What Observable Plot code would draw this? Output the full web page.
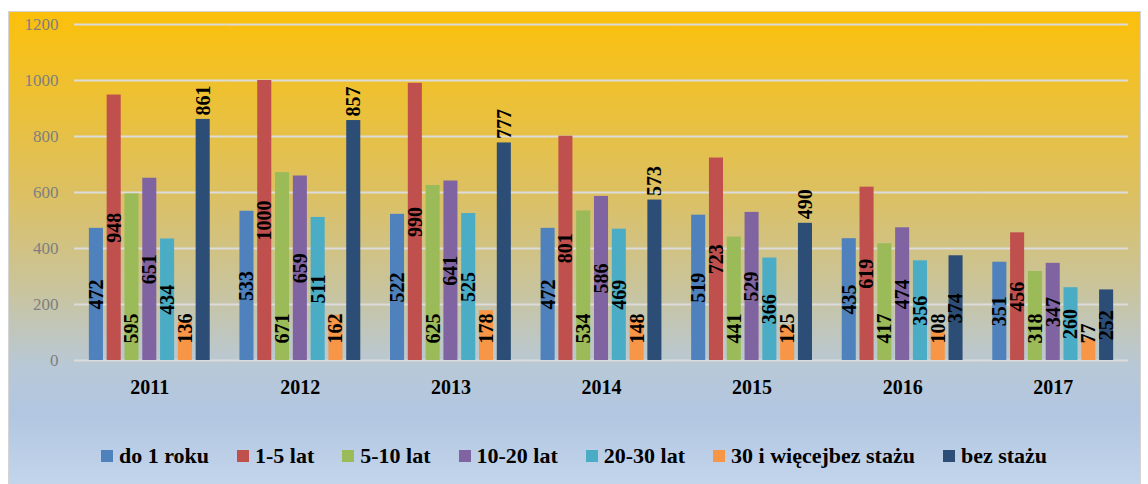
<!DOCTYPE html>
<html><head><meta charset="utf-8">
<script src="https://cdn.jsdelivr.net/npm/d3@7"></script>
<script src="https://cdn.jsdelivr.net/npm/@observablehq/plot@0.6"></script>
<style>
html,body{margin:0;padding:0;background:#fff;}
#wrap{position:relative;width:1148px;height:484px;overflow:hidden;font-family:"Liberation Serif","Times New Roman","DejaVu Serif",serif;}
#bg{position:absolute;left:8px;top:11px;width:1133px;height:480px;border:1px solid #d4d4d4;box-sizing:border-box;
 background:linear-gradient(180deg,#FCC00A 0%,#EDC135 18%,#DCC062 38%,#C9C49C 58%,#B8C8D6 74%,#B2C6E1 84%,#C4D6EC 100%);}
#chart{position:absolute;left:0;top:0;}
#chart svg text{font-family:"Liberation Serif","Times New Roman","DejaVu Serif",serif;}
#legend{position:absolute;left:0;width:1148px;top:443px;display:flex;justify-content:center;gap:28px;font-weight:bold;font-size:22px;color:#000;line-height:26px;}
.item{display:flex;align-items:center;white-space:nowrap;}
.sw{width:12px;height:12px;margin-right:6px;}
</style></head>
<body><div id="wrap"><div id="bg"></div><div id="chart"></div><div id="legend"></div></div>
<script>
const years = ["2011","2012","2013","2014","2015","2016","2017"];
const seriesNames = ["do 1 roku","1-5 lat","5-10 lat","10-20 lat","20-30 lat","30 i więcej","bez stażu"];
const legendLabels = ["do 1 roku","1-5 lat","5-10 lat","10-20 lat","20-30 lat","30 i więcejbez stażu","bez stażu"];
const seriesColors = ["#4F81BD","#C0504D","#9BBB59","#8064A2","#4BACC6","#F79646","#2C4D75"];
const do1Roku   = [472, 533, 522, 472, 519, 435, 351];
const lat1_5    = [948, 1000, 990, 801, 723, 619, 456];
const lat5_10   = [595, 671, 625, 534, 441, 417, 318];
const lat10_20  = [651, 659, 641, 586, 529, 474, 347];
const lat20_30  = [434, 511, 525, 469, 366, 356, 260];
const lat30plus = [136, 162, 178, 148, 125, 108, 77];
const bezStazu  = [861, 857, 777, 573, 490, 374, 252];
const yTicks = [0, 200, 400, 600, 800, 1000, 1200];
const labelPlacement = ["center","center","base","center","center","base","end"];
const endLabelYears = ["2011","2012","2013","2014","2015"];

const seriesValues = [do1Roku, lat1_5, lat5_10, lat10_20, lat20_30, lat30plus, bezStazu];
const rows = [];
years.forEach((year, i) => {
  seriesNames.forEach((s, j) => {
    let p = labelPlacement[j];
    if (p === "end" && !endLabelYears.includes(year)) p = "center";
    rows.push({year, series: s, value: seriesValues[j][i], placement: p});
  });
});

const FONT = "Liberation Serif, Times New Roman, DejaVu Serif, serif";
const labelStyle = {fx: "year", x: "series", text: d => String(d.value), rotate: -90, fontSize: 20, fontWeight: "bold", fill: "#000", fontFamily: FONT};

const chart = Plot.plot({
  width: 1148, height: 420,
  marginLeft: 74, marginRight: 20, marginTop: 24, marginBottom: 60,
  style: {background: "transparent", fontFamily: FONT, overflow: "visible"},
  fx: {domain: years, padding: 0, round: false, label: null, axis: null},
  x: {domain: seriesNames, paddingInner: 0.21, paddingOuter: 0.835, round: false, axis: null},
  y: {domain: [0, 1200], label: null, axis: null},
  color: {domain: seriesNames, range: seriesColors},
  marks: [
    Plot.ruleY(yTicks, {stroke: "#dcdcdc", strokeWidth: 2}),
    Plot.barY(rows, {fx: "year", x: "series", y: "value", fill: "series"}),
    Plot.text(rows.filter(d => d.placement === "center"), {...labelStyle, y: d => d.value / 2}),
    Plot.text(rows.filter(d => d.placement === "base"), {...labelStyle, y: () => 0, dy: -17, textAnchor: "start"}),
    Plot.text(rows.filter(d => d.placement === "end"), {...labelStyle, y: "value", dy: -4, textAnchor: "start"}),
    Plot.axisY({ticks: yTicks, tickFormat: d => String(d), tickSize: 0, tickPadding: 16, fontSize: 17, fill: "#7f7f7f", label: null, fontFamily: FONT}),
    Plot.axisFx({anchor: "bottom", tickSize: 0, tickPadding: 19, fontSize: 20, fontWeight: "bold", fill: "#000", label: null, fontFamily: FONT})
  ]
});
document.getElementById("chart").appendChild(chart);

const legend = d3.select("#legend");
legendLabels.forEach((lab, j) => {
  const it = legend.append("div").attr("class", "item");
  it.append("div").attr("class", "sw").style("background", seriesColors[j]);
  it.append("span").text(lab);
});
</script>
</body></html>
